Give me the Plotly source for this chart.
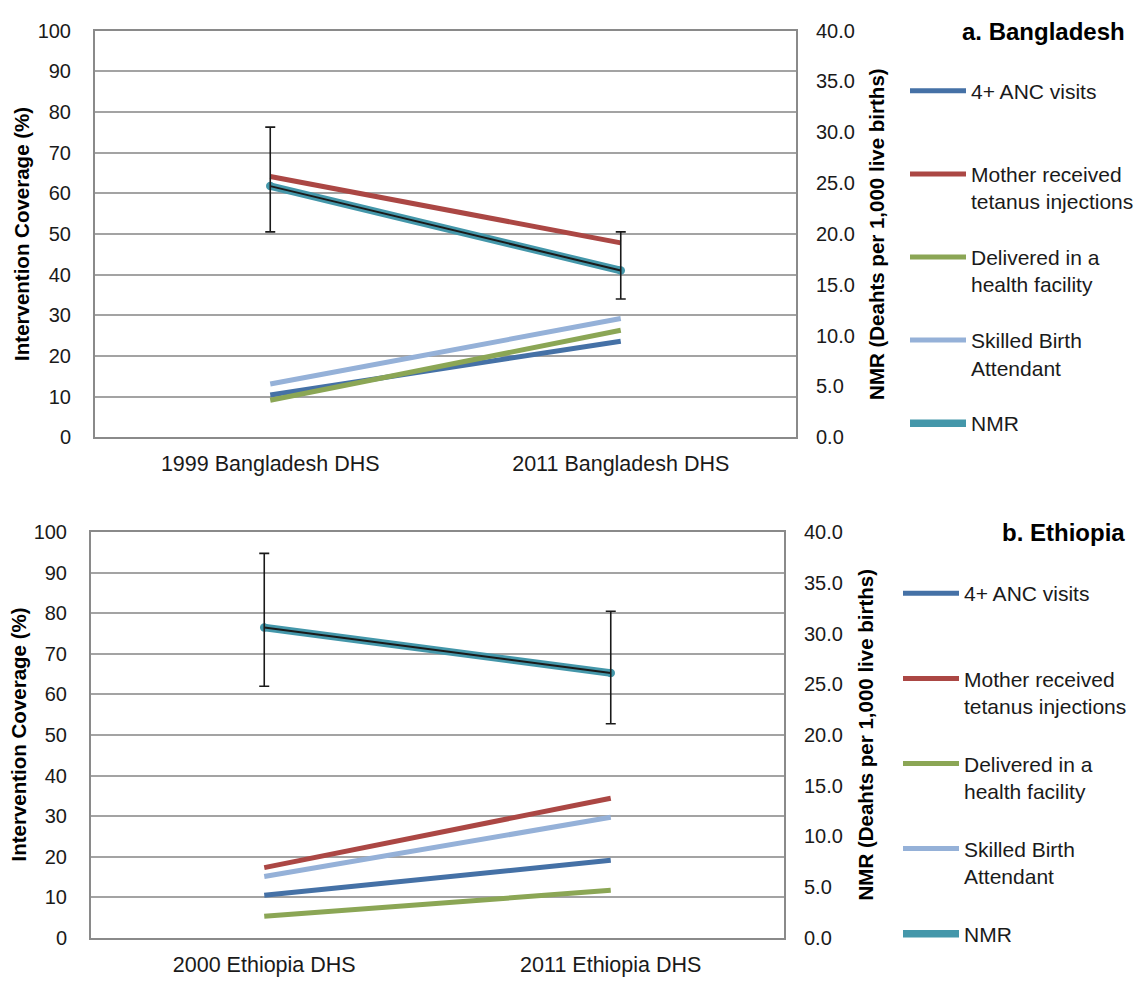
import plotly.graph_objects as go

# Survey rounds (x categories)
bd_surveys = ["1999 Bangladesh DHS", "2011 Bangladesh DHS"]
et_surveys = ["2000 Ethiopia DHS", "2011 Ethiopia DHS"]

# Intervention coverage (%), left axis
bd_anc = [10.4, 23.6]
bd_tt = [64.1, 47.8]
bd_facility = [9.1, 26.3]
bd_sba = [13.1, 29.2]

et_anc = [10.5, 19.1]
et_tt = [17.3, 34.4]
et_facility = [5.3, 11.7]
et_sba = [15.1, 29.7]

# Neonatal mortality rate with confidence bounds, right axis
bd_nmr = [24.7, 16.4]
bd_nmr_hi = [30.5, 20.2]
bd_nmr_lo = [20.2, 13.6]

et_nmr = [30.6, 26.1]
et_nmr_hi = [37.9, 32.2]
et_nmr_lo = [24.8, 21.1]

left_ticks = list(range(0, 101, 10))
right_ticks = [0, 5, 10, 15, 20, 25, 30, 35, 40]

series_names = ["4+ ANC visits<br> ", "Mother received<br>tetanus injections",
                "Delivered in a<br>health facility", "Skilled Birth<br>Attendant"]
series_colors = ["#4571a6", "#ab4744", "#8ba655", "#95b1d8"]
nmr_color = "#4497aa"

FONT = "Arial, Liberation Sans, sans-serif"

fig = go.Figure()


def add_panel(surveys, coverage, nmr, hi, lo, xa, ya_left, ya_right, legend):
    for i, (vals, name, col) in enumerate(zip(coverage, series_names, series_colors)):
        fig.add_trace(go.Scatter(
            x=surveys, y=vals, mode="lines", name=name,
            line=dict(color=col, width=5), xaxis=xa, yaxis=ya_left,
            legend=legend, legendgroup=f"{legend}-{i}"))
    # NMR: thick teal band with a thin black line and error bars on top
    fig.add_trace(go.Scatter(
        x=surveys, y=nmr, mode="lines", name="NMR<br> ",
        line=dict(color=nmr_color, width=7.5), xaxis=xa, yaxis=ya_right,
        legend=legend, legendgroup=f"{legend}-nmr"))
    fig.add_trace(go.Scatter(
        x=surveys, y=nmr, mode="markers", showlegend=False,
        marker=dict(color=nmr_color, size=8.5), xaxis=xa, yaxis=ya_right,
        hoverinfo="skip"))
    fig.add_trace(go.Scatter(
        x=surveys, y=nmr, mode="lines", showlegend=False,
        line=dict(color="#1a1a1a", width=2), xaxis=xa, yaxis=ya_right,
        error_y=dict(type="data", symmetric=False,
                     array=[h - v for h, v in zip(hi, nmr)],
                     arrayminus=[v - l for v, l in zip(nmr, lo)],
                     color="#1a1a1a", thickness=1.6, width=5)))


add_panel(bd_surveys, [bd_anc, bd_tt, bd_facility, bd_sba], bd_nmr, bd_nmr_hi, bd_nmr_lo,
          "x", "y", "y2", "legend")
add_panel(et_surveys, [et_anc, et_tt, et_facility, et_sba], et_nmr, et_nmr_hi, et_nmr_lo,
          "x2", "y3", "y4", "legend2")

W, H = 1141, 984


def px_x(p):
    return p / W


def px_y(p):
    return 1 - p / H


grid_col = "#a3a3a3"
frame_col = "#8a8a8a"
tick_font = dict(family=FONT, size=20, color="#1a1a1a")

xcommon = dict(type="category", range=[-0.5, 1.5], showgrid=False, showline=True,
               linecolor=frame_col, linewidth=2, mirror=True, ticks="",
               tickfont=dict(tick_font, size=21.5), ticklabelstandoff=6, zeroline=False)
yleft = dict(range=[0, 100], tickvals=left_ticks, showgrid=True, gridcolor=grid_col,
             gridwidth=1.6, showline=True, linecolor=frame_col, linewidth=2,
             ticks="", tickfont=tick_font, ticklabelstandoff=18, zeroline=False)
yright = dict(range=[0, 40], tickvals=right_ticks, tickformat=".1f", showgrid=False,
              showline=True, linecolor=frame_col, linewidth=2, ticks="",
              tickfont=tick_font, ticklabelstandoff=14, zeroline=False, side="right")

legend_common = dict(xanchor="left", yanchor="top", valign="top", itemwidth=56,
                     font=dict(family=FONT, size=21, color="#1a1a1a"),
                     bgcolor="rgba(0,0,0,0)", traceorder="grouped")

fig.update_layout(
    width=W, height=H, autosize=False,
    margin=dict(l=0, r=0, t=0, b=0),
    paper_bgcolor="white", plot_bgcolor="white",
    font=dict(family=FONT, size=20, color="#1a1a1a"),
    xaxis=dict(xcommon, domain=[px_x(95), px_x(796)], anchor="y"),
    yaxis=dict(yleft, domain=[px_y(436), px_y(20)], anchor="x"),
    yaxis2=dict(yright, overlaying="y", anchor="x"),
    xaxis2=dict(xcommon, domain=[px_x(91), px_x(784)], anchor="y3"),
    yaxis3=dict(yleft, domain=[px_y(948), px_y(533)], anchor="x2"),
    yaxis4=dict(yright, overlaying="y3", anchor="x2"),
    legend=dict(legend_common, x=px_x(905), y=px_y(61), tracegroupgap=25.5),
    legend2=dict(legend_common, x=px_x(898), y=px_y(575), tracegroupgap=27.5),
    showlegend=True,
)

title_font = dict(family=FONT, size=20.5, color="#000000")
annotations = [
    dict(text="<b>Intervention Coverage (%)</b>", x=px_x(22), y=px_y(228), textangle=-90),
    dict(text="<b>NMR (Deahts per 1,000 live births)</b>", x=px_x(877), y=px_y(228), textangle=-90),
    dict(text="<b>Intervention Coverage (%)</b>", x=px_x(18), y=px_y(740), textangle=-90),
    dict(text="<b>NMR (Deahts per 1,000 live births)</b>", x=px_x(865), y=px_y(740), textangle=-90),
]
for a in annotations:
    fig.add_annotation(xref="paper", yref="paper", showarrow=False, font=title_font,
                       xanchor="center", yanchor="middle", **a)

for txt, yy in [("<b>a. Bangladesh</b>", 21), ("<b>b. Ethiopia</b>", 533)]:
    fig.add_annotation(text=txt, xref="paper", yref="paper", x=px_x(1127), y=px_y(yy),
                       xanchor="right", yanchor="middle", showarrow=False,
                       font=dict(family=FONT, size=24, color="#000000"))

fig.write_html("out.html")
